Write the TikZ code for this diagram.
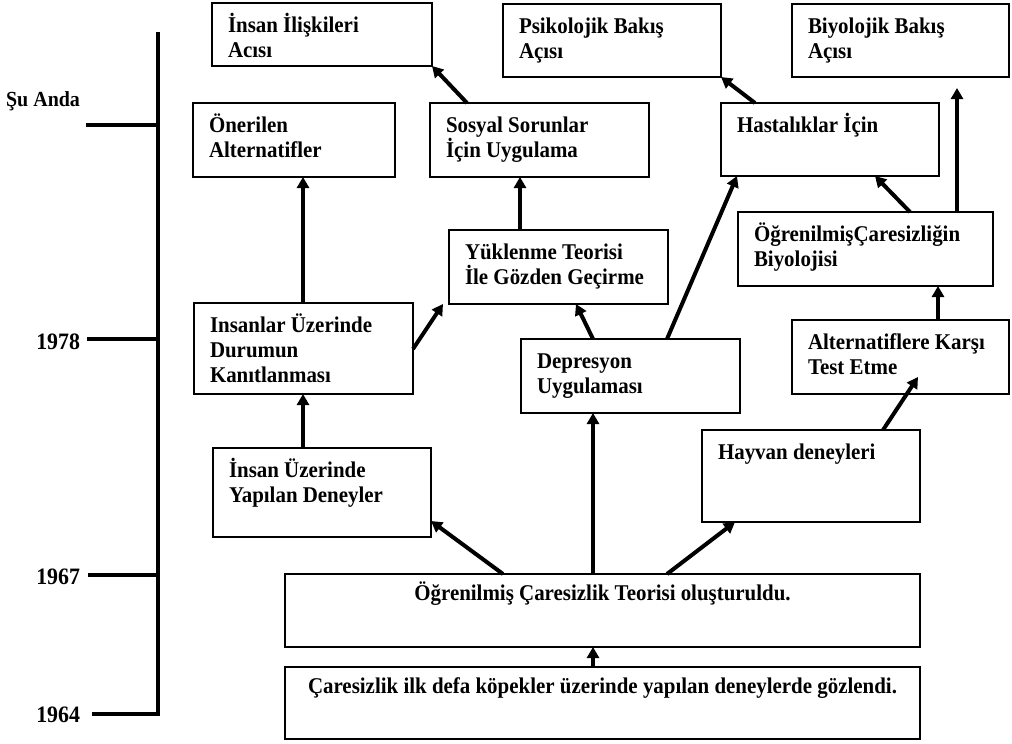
\documentclass[tikz,border=0pt]{standalone}
\usepackage{fontspec}
\setmainfont{Liberation Serif}
% slightly condensed face: taller letters at the same set width
\newfontfamily\boxfont{Liberation Serif}[FakeStretch=0.93]
\usetikzlibrary{arrows.meta}

% stacked left-aligned lines, baseline at the first line
\newcommand\ml[1]{\vtop{\halign{##\hfil\cr#1\crcr}}}

\tikzset{
  boxst/.style={draw, line width=2.6pt, inner sep=0pt, outer sep=0pt, anchor=north west},
  txt/.style={inner sep=0pt, outer sep=0pt, font=\boxfont\fontsize{22.5}{25}\selectfont\bfseries},
  lbl/.style={inner sep=0pt, outer sep=0pt, font=\boxfont\fontsize{23.5}{25}\selectfont\bfseries},
  arr/.style={line width=4pt, -{Triangle[length=11pt,width=12pt]}},
  tl/.style={line width=4.5pt}
}

% name, left, top, right, bottom, text
\newcommand\flowbox[6]{%
  \node[boxst, minimum width={(#4)-(#2)}, minimum height={(#5)-(#3)}] (#1) at (#2,#3) {};
  \node[txt, anchor=base west] (#1-t) at ([xshift=16pt,yshift=-29pt]#1.north west) {\ml{#6}};}

\begin{document}
\begin{tikzpicture}[x=1pt, y=-1pt]
  \useasboundingbox[fill=white] (0,0) rectangle (1012,744);

  % time axis
  \coordinate (tTop) at (158,32);
  \coordinate (tBot) at (158,716);
  \draw[tl] (tTop) -- (tBot);
  \coordinate (k1) at (86,125);
  \coordinate (k2) at (87,339);
  \coordinate (k3) at (88,575);
  \coordinate (k4) at (92,714);
  \draw[tl] (k1) -- (k1 -| tTop);
  \draw[tl] (k2) -- (k2 -| tTop);
  \draw[tl] (k3) -- (k3 -| tTop);
  \draw[tl] (k4) -- (k4 -| tTop);
  \node[lbl, font=\boxfont\fontsize{21.5}{25}\selectfont\bfseries, anchor=base east] (now) at (80,106) {Şu Anda};
  \node[lbl, anchor=base east] (y78) at (80,349) {1978};
  \node[lbl, anchor=base east] (y67) at (80,584) {1967};
  \node[lbl, anchor=base east] (y64) at (80,722) {1964};

  % boxes
  \flowbox{rel}{212}{3}{432}{66}{İnsan İlişkileri\cr Acısı}
  \flowbox{psi}{503}{4}{721}{77}{Psikolojik Bakış\cr Açısı}
  \flowbox{bio}{792}{4}{1009}{77}{Biyolojik Bakış\cr Açısı}
  \flowbox{one}{193}{103}{395}{177}{Önerilen\cr Alternatifler}
  \flowbox{sos}{430}{103}{649}{177}{Sosyal Sorunlar\cr İçin Uygulama}
  \flowbox{has}{721}{103}{939}{176}{Hastalıklar İçin}
  \flowbox{yuk}{449}{230}{668}{304}{Yüklenme Teorisi\cr İle Gözden Geçirme}
  \flowbox{ocb}{738}{212}{993}{286}{ÖğrenilmişÇaresizliğin\cr Biyolojisi}
  \flowbox{kan}{194}{303}{413}{394}{Insanlar Üzerinde\cr Durumun\cr Kanıtlanması}
  \flowbox{dep}{521}{339}{740}{413}{Depresyon\cr Uygulaması}
  \flowbox{alt}{792}{320}{1009}{394}{Alternatiflere Karşı\cr Test Etme}
  \flowbox{den}{213}{448}{431}{537}{İnsan Üzerinde\cr Yapılan Deneyler}
  \flowbox{hay}{702}{430}{920}{522}{Hayvan deneyleri}

  \node[boxst, minimum width=635, minimum height=73] (teo) at (285,574) {};
  \node[txt, anchor=base] (teo-t) at ([yshift=-26pt]teo.north) {Öğrenilmiş Çaresizlik Teorisi oluşturuldu.};
  \node[boxst, minimum width=635, minimum height=72] (ilk) at (285,667) {};
  \node[txt, anchor=base] (ilk-t) at ([yshift=-26pt]ilk.north) {Çaresizlik ilk defa köpekler üzerinde yapılan deneylerde gözlendi.};

  % connectors
  \draw[arr] ([xshift=308pt]ilk.north west) -- ([xshift=308pt]teo.south west);
  \draw[arr] ([xshift=218pt]teo.north west) -- ([yshift=16pt]den.south east);
  \draw[arr] ([xshift=308pt]teo.north west) -- ([xshift=72pt]dep.south west);
  \draw[arr] ([xshift=382pt]teo.north west) -- ([xshift=33pt]hay.south west);
  \draw[arr] ([xshift=90pt]den.north west) -- ([xshift=109pt]kan.south west);
  \draw[arr] ([xshift=109pt]kan.north west) -- ([xshift=110pt]one.south west);
  \draw[arr] ([yshift=-46pt]kan.north east) -- ([xshift=-6pt]yuk.south west);
  \draw[arr] ([xshift=71pt]yuk.north west) -- ([xshift=90pt]sos.south west);
  \draw[arr] ([xshift=37pt]sos.north west) -- (rel.south east);
  \draw[arr] ([xshift=72pt]dep.north west) -- ([xshift=127pt]yuk.south west);
  \draw[arr] ([xshift=146pt]dep.north west) -- ([xshift=16pt]has.south west);
  \draw[arr] ([xshift=34pt]has.north west) -- (psi.south east);
  \draw[arr] ([xshift=172pt]ocb.north west) -- ([xshift=154pt]has.south west);
  \draw[arr] ([xshift=219pt]ocb.north west) -- ([xshift=165pt,yshift=-11pt]bio.south west);
  \draw[arr] ([xshift=146pt]alt.north west) -- ([xshift=200pt]ocb.south west);
  \draw[arr] ([xshift=181pt]hay.north west) -- ([xshift=126pt,yshift=17pt]alt.south west);
\end{tikzpicture}
\end{document}
